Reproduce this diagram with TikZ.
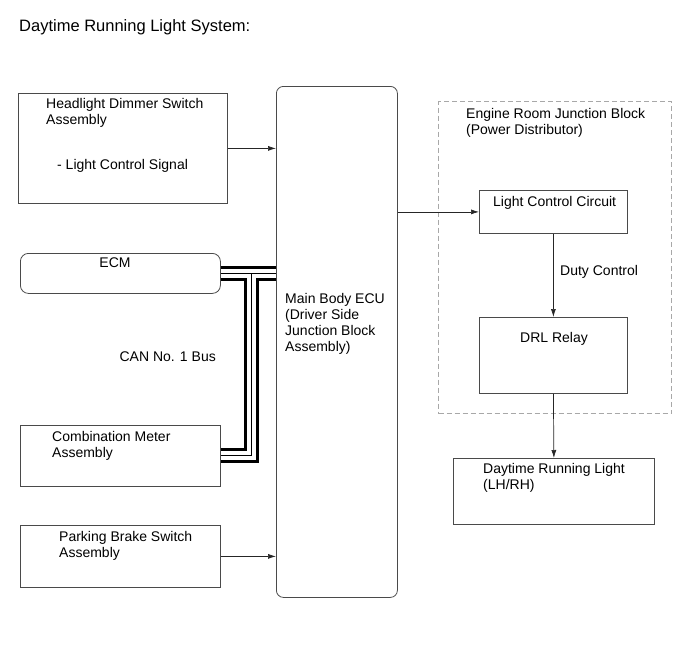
\documentclass[tikz,border=0pt]{standalone}
\usepackage{fontspec}
\setmainfont{Liberation Sans}
\usetikzlibrary{positioning, arrows.meta, calc}
\definecolor{boxLine}{HTML}{4a4a4a}
\definecolor{dashLine}{HTML}{a8a8a8}

\begin{document}
\begin{tikzpicture}[x=1pt, y=-1pt,
  blk/.style={draw=boxLine, line width=0.8pt, inner sep=0pt, anchor=north west},
  rblk/.style={blk, rounded corners=7pt},
  txt/.style={font=\fontsize{14}{16}\selectfont, inner sep=0pt, anchor=base west, align=left},
  arr/.style={draw=black!85, line width=0.7pt, -{Latex[length=8pt, width=5pt]}},
  bus/.style={line cap=butt, line join=miter}]
\useasboundingbox (0,0) rectangle (689,659);
\node[font=\fontsize{16.5}{19}\selectfont, inner sep=0pt, anchor=base west] (title) at (19,31) {Daytime Running Light System:};
% left column
\node[blk, minimum width=209, minimum height=110] (hds) at (18,93) {};
\node[rblk, rounded corners=8pt, minimum width=200, minimum height=40] (ecm) at (20,253) {};
\node[blk, minimum width=200, minimum height=61] (cmb) at (20,425) {};
\node[blk, minimum width=200, minimum height=62] (pbs) at (20,525) {};
% body ecu
\node[rblk, minimum width=121, minimum height=511] (ecu) at (276,86) {};
% engine room side
\node[blk, draw=dashLine, line width=1.3pt, dash pattern=on 5pt off 3pt, minimum width=233, minimum height=312] (erjb) at (438,101) {};
\node[blk, minimum width=148, minimum height=43] (lcc) at (479,190) {};
\node[blk, minimum width=148, minimum height=76] (drl) at (479,317) {};
\node[blk, minimum width=201, minimum height=66] (lamp) at (453,458) {};

% CAN bus
\coordinate (tee) at ($(ecm.east)!0.55!(ecm.east -| ecu.west)$);
\foreach \w/\c in {15/black, 9/white, 1/black}
  \draw[bus, line width=\w pt, \c] (ecm.east) -- (ecm.east -| ecu.west) (tee) |- (cmb.east);

% signals
\draw[arr] (hds.east) -- (hds.east -| ecu.west);
\draw[arr] (pbs.east) -- (pbs.east -| ecu.west);
\draw[arr] (ecu.east |- lcc.west) -- (lcc.west);
\draw[arr] (lcc.south) -- (drl.north);
\draw[arr] (drl.south) -- (lamp.north);

% labels (multi-line ones sit on the baseline of their last line)
\node[txt] (hdsT) at (46,124) {Headlight Dimmer Switch\\Assembly};
\node[txt] (hdsS) at (57,169) {- Light Control Signal};
\node[txt, anchor=base] (ecmT) at (115,267) {ECM};
\node[txt, anchor=base east] (can) at (216,361) {CAN No. 1 Bus};
\node[txt] (cmbT) at (52,457) {Combination Meter\\Assembly};
\node[txt] (pbsT) at (59,557) {Parking Brake Switch\\Assembly};
\node[txt] (ecuT) at (285,351) {Main Body ECU\\(Driver Side\\Junction Block\\Assembly)};
\node[txt] (erjbT) at (466,134) {Engine Room Junction Block\\(Power Distributor)};
\node[txt] (lccT) at (493,206) {Light Control Circuit};
\node[txt] (duty) at (560,275) {Duty Control};
\node[txt] (drlT) at (520,342) {DRL Relay};
\node[txt] (lampT) at (483,489) {Daytime Running Light\\(LH/RH)};
\end{tikzpicture}
\end{document}
